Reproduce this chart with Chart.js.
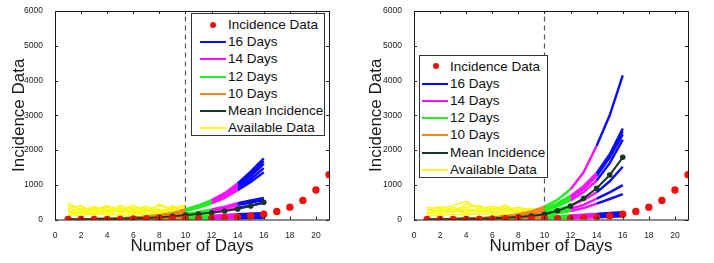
<!DOCTYPE html>
<html>
<head>
<meta charset="utf-8">
<script src="https://cdn.jsdelivr.net/npm/chart.js@4.4.1/dist/chart.umd.min.js"></script>
<style>
  body { margin: 0; background: #fff; }
  #wrap { position: relative; width: 714px; height: 263px; font-family: "Liberation Sans", Arial, sans-serif; }
  canvas { position: absolute; top: 0; }
  .legend { position: absolute; background: #fff; border: 1px solid #333; box-sizing: border-box; }
  .row { position: absolute; left: 0; height: 17px; line-height: 17px; font-size: 13.5px; color: #111; white-space: nowrap; }
  .sym { position: absolute; top: 8px; height: 2px; }
  .dot { position: absolute; top: 5.5px; width: 6px; height: 6px; border-radius: 50%; background: #f01010; }
  .txt { position: absolute; top: 0; }
</style>
</head>
<body>
<div id="wrap">
  <canvas id="c1" width="357" height="263" style="left:0"></canvas>
  <canvas id="c2" width="357" height="263" style="left:357px"></canvas>
  <div class="legend" id="leg1" style="left:191px;top:13px;width:134px;height:123px"></div>
  <div class="legend" id="leg2" style="left:419px;top:55px;width:129px;height:123px"></div>
</div>
<script>
// ---- data ----
const xTicks = [0, 2, 4, 6, 8, 10, 12, 14, 16, 18, 20];
const yTicks = [0, 1000, 2000, 3000, 4000, 5000, 6000];
const cutDay = 10;

const incidenceDays = [1, 2, 3, 4, 5, 6, 7, 8, 9, 10, 11, 12, 13, 14, 15, 16, 17, 18, 19, 20, 21];
const incidence = [1, 1, 2, 3, 4, 6, 8, 10, 13, 17, 20, 28, 45, 62, 100, 150, 230, 355, 550, 850, 1290];

const fitDays = [1, 2, 3, 4, 5, 6, 7, 8, 9, 10, 11, 12, 13, 14, 15, 16];
const availDays = [1, 2, 3, 4, 5, 6, 7, 8, 9, 10];

// left panel
const meanLeft = [5, 8, 12, 17, 24, 33, 45, 62, 90, 130, 160, 196, 245, 302, 389, 495];
const runsLeft = [
  [2, 6, 12, 22, 36, 55, 85, 125, 185, 290, 410, 560, 760, 1040, 1380, 1760],
  [2, 6, 12, 21, 35, 53, 81, 120, 178, 278, 392, 535, 725, 990, 1310, 1680],
  [2, 5, 11, 20, 33, 50, 77, 115, 170, 265, 375, 510, 690, 940, 1240, 1600],
  [2, 5, 11, 19, 32, 48, 74, 110, 162, 252, 355, 485, 650, 880, 1160, 1480],
  [2, 5, 10, 18, 30, 46, 70, 105, 155, 240, 340, 460, 620, 840, 1080, 1360],
  [1, 4, 8, 14, 22, 34, 50, 72, 105, 160, 220, 290, 370, 470, 550, 620],
  [1, 4, 8, 13, 21, 32, 47, 68, 100, 150, 205, 270, 345, 450, 530, 590],
  [1, 3, 7, 12, 19, 29, 43, 62, 90, 140, 190, 250, 320, 420, 480, 560],
  [1, 3, 6, 10, 16, 24, 36, 52, 75, 115, 155, 200, 260, 340, 400, 480],
  [1, 2, 4, 7, 11, 16, 23, 32, 45, 65, 85, 110, 130, 150, 165, 180],
  [1, 2, 4, 6, 9, 13, 18, 25, 35, 50, 70, 90, 110, 130, 150, 170],
  [0, 1, 3, 5, 8, 11, 15, 21, 29, 40, 55, 70, 85, 100, 115, 130],
  [0, 1, 2, 4, 6, 9, 12, 16, 22, 30, 42, 55, 68, 80, 95, 110],
  [0, 1, 2, 3, 5, 7, 9, 12, 16, 22, 30, 40, 50, 60, 70, 80],
  [0, 0, 1, 2, 3, 4, 5, 7, 9, 12, 16, 20, 25, 30, 35, 40]
];
const availLeft = [
  [480, 250, 380, 220, 400, 300, 380, 250, 330, 420],
  [300, 400, 200, 350, 250, 420, 200, 440, 280, 350],
  [420, 300, 260, 380, 300, 350, 250, 400, 300, 380],
  [200, 330, 280, 400, 180, 300, 320, 200, 400, 250],
  [380, 150, 300, 250, 330, 200, 260, 300, 180, 300],
  [220, 180, 300, 200, 350, 220, 330, 160, 350, 280],
  [120, 280, 150, 300, 220, 250, 150, 230, 250, 200],
  [250, 200, 350, 150, 280, 160, 280, 180, 220, 150],
  [100, 200, 120, 220, 100, 200, 120, 180, 120, 200],
  [150, 100, 200, 120, 150, 120, 180, 100, 150, 100]
];

// right panel
const meanRight = [5, 8, 12, 18, 25, 35, 50, 70, 100, 150, 250, 390, 610, 900, 1280, 1790];
const runsRight = [
  [2, 6, 12, 22, 38, 60, 95, 150, 235, 370, 570, 870, 1360, 2120, 3000, 4150],
  [2, 5, 11, 20, 34, 54, 85, 130, 200, 310, 470, 680, 960, 1340, 1880, 2620],
  [2, 5, 11, 20, 33, 52, 82, 125, 192, 298, 450, 650, 920, 1300, 1830, 2540],
  [2, 5, 10, 19, 32, 50, 78, 120, 185, 285, 430, 620, 880, 1250, 1780, 2450],
  [1, 4, 9, 17, 29, 45, 70, 108, 165, 255, 380, 550, 790, 1120, 1620, 2300],
  [1, 4, 8, 15, 25, 39, 60, 90, 135, 200, 290, 400, 560, 780, 1100, 1520],
  [1, 3, 7, 13, 21, 33, 50, 75, 110, 165, 230, 310, 420, 600, 780, 990],
  [1, 3, 6, 11, 18, 28, 42, 62, 90, 130, 180, 240, 330, 460, 590, 730],
  [1, 2, 4, 7, 11, 17, 25, 36, 52, 75, 95, 115, 140, 160, 185, 210],
  [1, 2, 4, 6, 10, 15, 22, 31, 45, 65, 85, 105, 125, 145, 165, 190],
  [0, 1, 3, 5, 8, 12, 17, 24, 33, 45, 60, 75, 90, 105, 120, 140],
  [0, 1, 2, 3, 5, 7, 10, 13, 17, 22, 30, 40, 50, 60, 75, 90]
];
const availRight = [
  [350, 300, 400, 520, 300, 380, 280, 350, 250, 300],
  [250, 380, 280, 350, 400, 250, 420, 220, 300, 250],
  [280, 330, 220, 450, 350, 300, 350, 280, 320, 220],
  [300, 200, 350, 250, 220, 330, 250, 300, 200, 330],
  [180, 250, 300, 200, 320, 180, 220, 300, 220, 280],
  [150, 280, 200, 300, 260, 200, 300, 180, 280, 200],
  [200, 150, 250, 180, 150, 250, 160, 250, 150, 180],
  [100, 120, 150, 120, 180, 130, 150, 120, 180, 120]
];

const legendLabels = ['Incidence Data', '16 Days', '14 Days', '12 Days', '10 Days', 'Mean Incidence', 'Available Data'];

// ---- colours ----
const RED = '#f01010';
const BLUE = '#0a0aff';
const MAGENTA = '#ff10ff';
const GREEN = '#22ee22';
const ORANGE = '#f5821f';
const DARK = '#143822';
const YELLOW = '#f8f81c';
const AXIS = '#1a1a1a';

function pts(xs, ys) {
  return ys.map((y, i) => ({ x: xs[i], y: y }));
}

function segColor(ctx) {
  const x0 = ctx.p0.parsed.x;
  if (x0 < 10) return ORANGE;
  if (x0 < 12) return GREEN;
  if (x0 < 14) return MAGENTA;
  return BLUE;
}

// box around plot + inward ticks, matlab style
const boxPlugin = {
  id: 'box',
  afterDraw(chart) {
    const { ctx, chartArea: a, scales } = chart;
    ctx.save();
    ctx.strokeStyle = AXIS;
    ctx.lineWidth = 1;
    ctx.strokeRect(a.left + 0.5, a.top + 0.5, a.right - a.left, a.bottom - a.top);
    ctx.beginPath();
    xTicks.forEach(v => {
      const px = Math.round(scales.x.getPixelForValue(v)) + 0.5;
      ctx.moveTo(px, a.bottom); ctx.lineTo(px, a.bottom - 3);
      ctx.moveTo(px, a.top); ctx.lineTo(px, a.top + 3);
    });
    yTicks.forEach(v => {
      const py = Math.round(scales.y.getPixelForValue(v)) + 0.5;
      ctx.moveTo(a.left, py); ctx.lineTo(a.left + 3, py);
      ctx.moveTo(a.right, py); ctx.lineTo(a.right - 3, py);
    });
    ctx.stroke();
    ctx.restore();
  }
};

function makeChart(id, runs, mean, avail, yWidth, padRight) {
  const datasets = [];
  datasets.push({
    data: pts(incidenceDays, incidence), showLine: false,
    pointRadius: 3.7, pointBackgroundColor: RED, pointBorderWidth: 0
  });
  datasets.push({
    data: pts(fitDays, mean), borderColor: DARK, borderWidth: 2,
    pointRadius: 2.8, pointBackgroundColor: DARK, pointBorderWidth: 0
  });
  runs.forEach(r => datasets.push({
    data: pts(fitDays, r), borderWidth: 2.4, pointRadius: 0,
    segment: { borderColor: segColor }, borderColor: BLUE
  }));
  datasets.push({
    data: [{ x: cutDay, y: 0 }, { x: cutDay, y: 6000 }],
    borderColor: '#555', borderWidth: 1.2, borderDash: [5, 4], pointRadius: 0
  });
  avail.forEach(r => datasets.push({
    data: pts(availDays, r), borderColor: YELLOW, borderWidth: 1.5, pointRadius: 0
  }));

  return new Chart(document.getElementById(id), {
    type: 'line',
    data: { datasets },
    options: {
      responsive: false,
      animation: false,
      devicePixelRatio: 1,
      layout: { padding: { left: 0, right: padRight, top: 11, bottom: 0 } },
      plugins: { legend: { display: false }, tooltip: { enabled: false } },
      elements: { line: { tension: 0 } },
      scales: {
        x: {
          type: 'linear', min: 0, max: 21,
          grid: { display: false }, border: { display: false },
          afterBuildTicks: s => { s.ticks = xTicks.map(v => ({ value: v })); },
          afterFit: s => { s.height = 43.5; },
          ticks: { color: AXIS, font: { size: 8.5, family: 'Liberation Sans' }, padding: 3, maxRotation: 0,
            callback: v => String(v) },
          title: { display: true, text: 'Number of Days', color: AXIS,
            font: { size: 17, family: 'Liberation Sans' }, padding: { top: 0, bottom: 6 } }
        },
        y: {
          type: 'linear', min: 0, max: 6000,
          grid: { display: false }, border: { display: false },
          afterBuildTicks: s => { s.ticks = yTicks.map(v => ({ value: v })); },
          afterFit: s => { s.width = yWidth; },
          ticks: { color: AXIS, font: { size: 8.5, family: 'Liberation Sans' }, padding: 4,
            callback: v => String(v) },
          title: { display: true, text: 'Incidence Data', color: AXIS,
            font: { size: 17, family: 'Liberation Sans' }, padding: { top: 9, bottom: 0 } }
        }
      }
    },
    plugins: [boxPlugin]
  });
}

makeChart('c1', runsLeft, meanLeft, availLeft, 55, 28);
makeChart('c2', runsRight, meanRight, availRight, 57, 26);

// legends
const legendSyms = [
  { dot: RED }, { line: BLUE }, { line: MAGENTA }, { line: GREEN },
  { line: ORANGE }, { line: DARK }, { line: YELLOW }
];
function buildLegend(id, lineX, lineW, dotX, textX, firstTop) {
  const box = document.getElementById(id);
  legendLabels.forEach((lab, i) => {
    const row = document.createElement('div');
    row.className = 'row';
    row.style.top = (firstTop + i * 17.2) + 'px';
    const s = legendSyms[i];
    if (s.dot) {
      const d = document.createElement('span');
      d.className = 'dot';
      d.style.left = (dotX - 3) + 'px';
      row.appendChild(d);
    } else {
      const l = document.createElement('span');
      l.className = 'sym';
      l.style.left = lineX + 'px';
      l.style.width = lineW + 'px';
      l.style.background = s.line;
      row.appendChild(l);
    }
    const t = document.createElement('span');
    t.className = 'txt';
    t.style.left = textX + 'px';
    t.textContent = lab;
    row.appendChild(t);
    box.appendChild(row);
  });
}
buildLegend('leg1', 8, 26, 21, 36, 2);
buildLegend('leg2', 2, 26, 16, 30, 1.5);
</script>
</body>
</html>
